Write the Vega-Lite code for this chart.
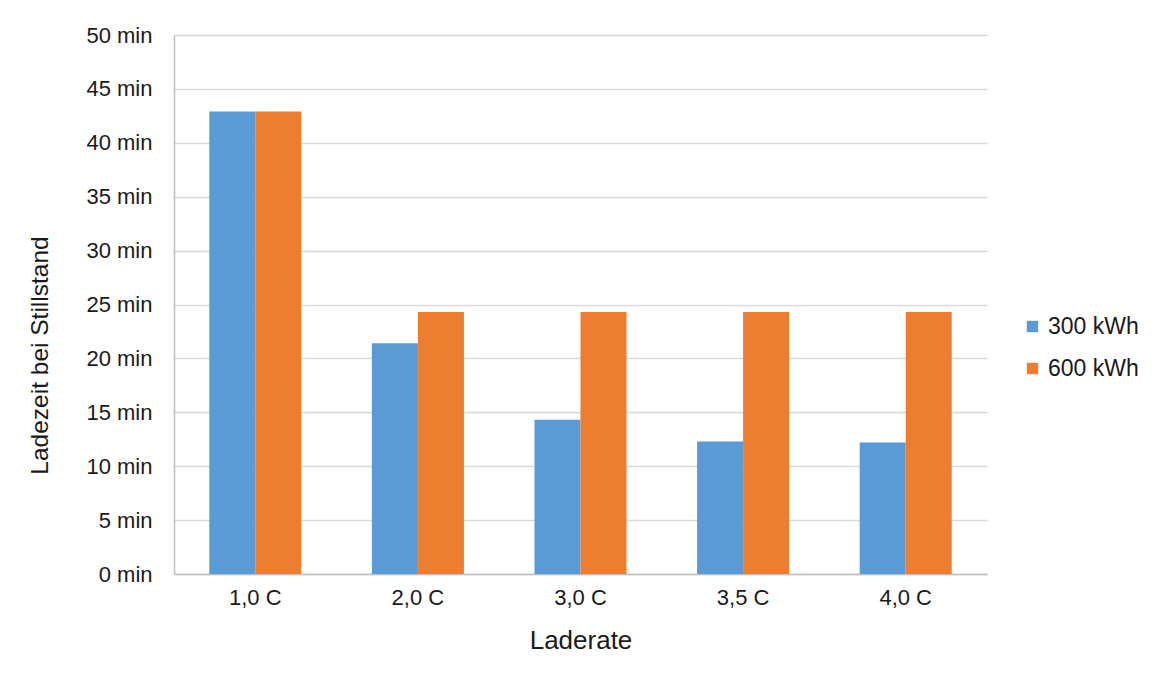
{
  "$schema": "https://vega.github.io/schema/vega-lite/v6.json",
  "autosize": {"type": "none"},
  "width": 813,
  "height": 539,
  "padding": {"left": 174, "top": 35, "right": 174, "bottom": 106},
  "background": "white",
  "data": {
    "values": [
      {"rate": "1,0 C", "battery": "300 kWh", "minutes": 42.9},
      {"rate": "1,0 C", "battery": "600 kWh", "minutes": 42.9},
      {"rate": "2,0 C", "battery": "300 kWh", "minutes": 21.4},
      {"rate": "2,0 C", "battery": "600 kWh", "minutes": 24.3},
      {"rate": "3,0 C", "battery": "300 kWh", "minutes": 14.3},
      {"rate": "3,0 C", "battery": "600 kWh", "minutes": 24.3},
      {"rate": "3,5 C", "battery": "300 kWh", "minutes": 12.3},
      {"rate": "3,5 C", "battery": "600 kWh", "minutes": 24.3},
      {"rate": "4,0 C", "battery": "300 kWh", "minutes": 12.2},
      {"rate": "4,0 C", "battery": "600 kWh", "minutes": 24.3}
    ]
  },
  "mark": {"type": "bar"},
  "encoding": {
    "x": {
      "field": "rate",
      "type": "nominal",
      "sort": null,
      "scale": {"paddingInner": 0.434, "paddingOuter": 0.217},
      "axis": {
        "title": "Laderate",
        "labelAngle": 0,
        "labelPadding": 13,
        "titleFontSize": 26,
        "titleY": 66,
        "titleBaseline": "middle",
        "ticks": false,
        "domainColor": "#bfbfbf",
        "domainWidth": 1.5
      }
    },
    "xOffset": {"field": "battery", "type": "nominal", "scale": {"paddingInner": 0, "paddingOuter": 0}},
    "y": {
      "field": "minutes",
      "type": "quantitative",
      "scale": {"domain": [0, 50], "nice": false},
      "axis": {
        "title": "Ladezeit bei Stillstand",
        "titleFontSize": 24.5,
        "titleX": -134,
        "titleY": 320,
        "titleBaseline": "middle",
        "values": [0, 5, 10, 15, 20, 25, 30, 35, 40, 45, 50],
        "labelExpr": "datum.value + ' min'",
        "ticks": false,
        "labelPadding": 22,
        "domainColor": "#bfbfbf",
        "domainWidth": 1.5,
        "grid": true,
        "gridColor": "#d9d9d9",
        "gridWidth": 1.5
      }
    },
    "color": {
      "field": "battery",
      "type": "nominal",
      "scale": {"domain": ["300 kWh", "600 kWh"], "range": ["#5B9BD5", "#ED7D31"]},
      "legend": {
        "title": null,
        "orient": "none",
        "legendX": 847,
        "legendY": 280,
        "symbolType": "square",
        "symbolSize": 130,
        "symbolStrokeWidth": 0,
        "rowPadding": 18,
        "labelOffset": 4
      }
    }
  },
  "config": {
    "font": "Liberation Sans",
    "view": {"stroke": null},
    "axis": {
      "labelFont": "Liberation Sans",
      "titleFont": "Liberation Sans",
      "labelFontSize": 22,
      "labelColor": "#1a1a1a",
      "titleColor": "#1a1a1a",
      "titleFontWeight": "normal"
    },
    "legend": {
      "labelFont": "Liberation Sans",
      "labelFontSize": 23,
      "labelColor": "#1a1a1a"
    }
  }
}
